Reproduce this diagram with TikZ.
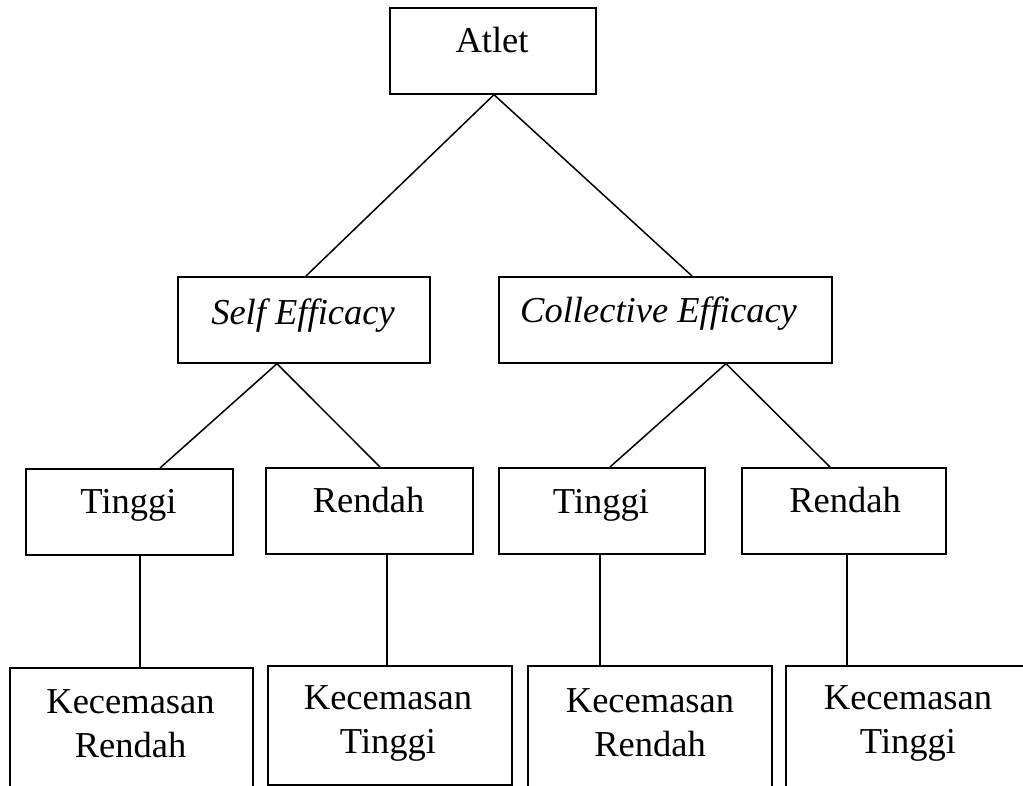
\documentclass[tikz,border=0pt]{standalone}
\usepackage{fontspec}
\setmainfont{Liberation Serif}
\begin{document}
\begin{tikzpicture}[x=1pt,y=-1pt,
  box/.style={draw=black,line width=1.7pt,rectangle,inner sep=0pt,anchor=north west},
  lbl/.style={font=\fontsize{36.5}{44}\selectfont,inner sep=0pt,anchor=base,align=center},
  conn/.style={draw=black,line width=1.5pt}]
\useasboundingbox (0,0) rectangle (1023,785);
\clip (0,0) rectangle (1023,785);
\fill[white] (0,0) rectangle (1023,785);
% boxes
\node[box,minimum width=206pt,minimum height=86pt] (atlet) at (389,7) {};
\node[box,minimum width=252pt,minimum height=86pt] (self) at (177,276) {};
\node[box,minimum width=333pt,minimum height=86pt] (coll) at (498,276) {};
\node[box,minimum width=207pt,minimum height=86pt] (t1) at (25,468) {};
\node[box,minimum width=207pt,minimum height=86pt] (r1) at (265,467) {};
\node[box,minimum width=206pt,minimum height=86pt] (t2) at (498,467) {};
\node[box,minimum width=204pt,minimum height=86pt] (r2) at (741,467) {};
\node[box,minimum width=243pt,minimum height=140pt] (k1) at (9,667) {};
\node[box,minimum width=244pt,minimum height=119pt] (k2) at (267,665) {};
\node[box,minimum width=244pt,minimum height=140pt] (k3) at (527,665) {};
\node[box,minimum width=260pt,minimum height=140pt] (k4) at (785,665) {};
% texts
\node[lbl] (tatlet) at (492,52) {Atlet};
\node[lbl] (tself) at (303,324) {\itshape Self Efficacy};
\node[lbl,anchor=base west] (tcoll) at (520,322) {\itshape Collective Efficacy};
\node[lbl] (tt1) at (128.5,513) {Tinggi};
\node[lbl] (tr1) at (368.5,512) {Rendah};
\node[lbl] (tt2) at (601,513) {Tinggi};
\node[lbl] (tr2) at (845,512) {Rendah};
\node[lbl] (tk1) at (130.5,757) {Kecemasan\\Rendah};
\node[lbl] (tk2) at (388,753) {Kecemasan\\Tinggi};
\node[lbl] (tk3) at (650,756) {Kecemasan\\Rendah};
\node[lbl] (tk4) at (908,753) {Kecemasan\\Tinggi};
% attachment x positions
\coordinate (xa) at (494,0);
\coordinate (xs) at (306,0);
\coordinate (xc) at (692,0);
\coordinate (xsb) at (277,0);
\coordinate (xcb) at (726,0);
\coordinate (xt1) at (160,0);
\coordinate (xr1) at (380,0);
\coordinate (xt2) at (610,0);
\coordinate (xr2) at (830,0);
\coordinate (v1) at (140,0);
\coordinate (v2) at (387,0);
\coordinate (v3) at (600,0);
\coordinate (v4) at (847,0);
% connectors
\draw[conn] (atlet.south -| xa) -- (self.north -| xs);
\draw[conn] (atlet.south -| xa) -- (coll.north -| xc);
\draw[conn] (self.south -| xsb) -- (t1.north -| xt1);
\draw[conn] (self.south -| xsb) -- (r1.north -| xr1);
\draw[conn] (coll.south -| xcb) -- (t2.north -| xt2);
\draw[conn] (coll.south -| xcb) -- (r2.north -| xr2);
\draw[conn] (t1.south -| v1) -- (k1.north -| v1);
\draw[conn] (r1.south -| v2) -- (k2.north -| v2);
\draw[conn] (t2.south -| v3) -- (k3.north -| v3);
\draw[conn] (r2.south -| v4) -- (k4.north -| v4);
\end{tikzpicture}
\end{document}
